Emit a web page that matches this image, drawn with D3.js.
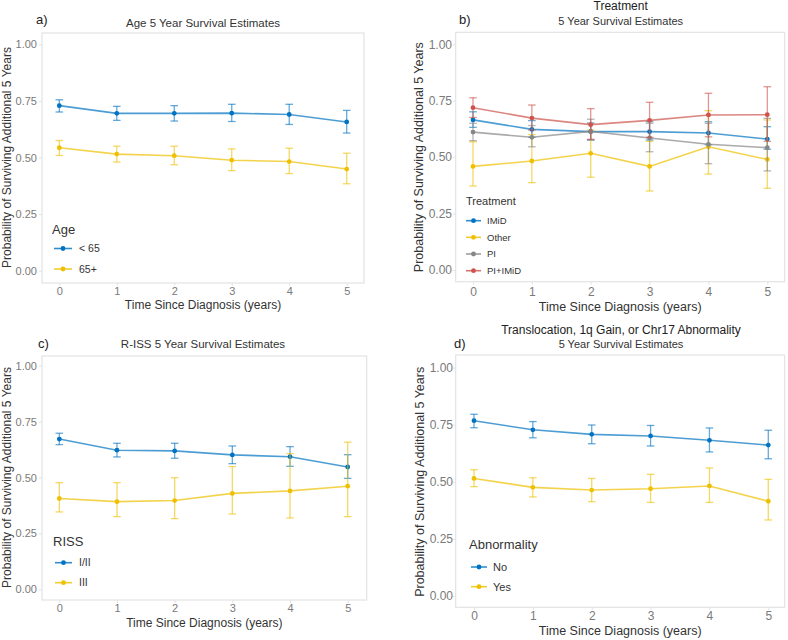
<!DOCTYPE html>
<html><head><meta charset="utf-8">
<script src="https://cdn.jsdelivr.net/npm/d3@7"></script>
<style>
body{margin:0;background:#fff;}
svg text{font-family:"Liberation Sans",Arial,sans-serif;}
</style></head>
<body>
<svg id="chart" width="788" height="640"></svg>
<script>
// ---------- DATA ----------
const years = [0, 1, 2, 3, 4, 5];
const yTicks = [0, 0.25, 0.5, 0.75, 1.0];
const yTickLabels = ["0.00", "0.25", "0.50", "0.75", "1.00"];

// Panel a: Age
const ageUnder65Est = [0.729, 0.695, 0.695, 0.696, 0.690, 0.657];
const ageUnder65Lo  = [0.701, 0.664, 0.661, 0.659, 0.646, 0.608];
const ageUnder65Hi  = [0.755, 0.726, 0.729, 0.735, 0.735, 0.708];
const age65PlusEst  = [0.543, 0.515, 0.508, 0.488, 0.482, 0.449];
const age65PlusLo   = [0.509, 0.480, 0.468, 0.442, 0.429, 0.384];
const age65PlusHi   = [0.575, 0.550, 0.550, 0.538, 0.541, 0.519];

// Panel b: Treatment
const imidEst   = [0.665, 0.623, 0.613, 0.613, 0.607, 0.580];
const imidLo    = [0.632, 0.588, 0.576, 0.576, 0.555, 0.535];
const imidHi    = [0.701, 0.662, 0.651, 0.657, 0.657, 0.635];
const otherEst  = [0.459, 0.483, 0.517, 0.459, 0.546, 0.490];
const otherLo   = [0.372, 0.387, 0.411, 0.350, 0.425, 0.362];
const otherHi   = [0.568, 0.600, 0.620, 0.570, 0.706, 0.665];
const piEst     = [0.611, 0.588, 0.614, 0.585, 0.557, 0.542];
const piLo      = [0.573, 0.546, 0.576, 0.524, 0.471, 0.439];
const piHi      = [0.650, 0.640, 0.668, 0.650, 0.650, 0.672];
const piImidEst = [0.719, 0.673, 0.644, 0.663, 0.687, 0.688];
const piImidLo  = [0.676, 0.620, 0.579, 0.588, 0.590, 0.570];
const piImidHi  = [0.763, 0.731, 0.715, 0.743, 0.783, 0.812];

// Panel c: R-ISS
const rissI_IIEst = [0.672, 0.622, 0.619, 0.601, 0.593, 0.547];
const rissI_IILo  = [0.647, 0.592, 0.586, 0.562, 0.550, 0.496];
const rissI_IIHi  = [0.698, 0.653, 0.653, 0.641, 0.638, 0.602];
const rissIIIEst  = [0.406, 0.392, 0.397, 0.429, 0.440, 0.461];
const rissIIILo   = [0.346, 0.325, 0.316, 0.337, 0.319, 0.325];
const rissIIIHi   = [0.477, 0.477, 0.499, 0.549, 0.607, 0.658];

// Panel d: Abnormality
const abnNoEst  = [0.768, 0.728, 0.708, 0.701, 0.682, 0.661];
const abnNoLo   = [0.737, 0.693, 0.667, 0.657, 0.631, 0.601];
const abnNoHi   = [0.796, 0.764, 0.749, 0.747, 0.736, 0.726];
const abnYesEst = [0.515, 0.476, 0.464, 0.470, 0.482, 0.415];
const abnYesLo  = [0.479, 0.434, 0.413, 0.410, 0.410, 0.333];
const abnYesHi  = [0.553, 0.518, 0.515, 0.533, 0.561, 0.511];

const colors = {blue: "#0073C2", yellow: "#EFC000", gray: "#868686", red: "#CD534C"};

const yTitle = "Probability of Surviving Additional 5 Years";
const xTitle = "Time Since Diagnosis (years)";

function mk(name, color, est, lo, hi) {
  return {name, color, values: years.map((t, i) => ({t, est: est[i], lo: lo[i], hi: hi[i]}))};
}

const panels = [
  {
    tag: "a)", titles: ["Age 5 Year Survival Estimates"],
    legendTitle: "Age",
    series: [mk("< 65", colors.blue, ageUnder65Est, ageUnder65Lo, ageUnder65Hi),
             mk("65+", colors.yellow, age65PlusEst, age65PlusLo, age65PlusHi)],
    L: {box: [42, 33, 364, 283], x: [59.3, 346.7], y: [270.7, 44.3],
        tag: [36, 24, 13], title: [[203, 27, 11.5, "#333"]],
        tickFs: 11, yLabRight: 37, xLabBase: 295, xTitleBase: 309, yTitleX: 11, titleFs: 12,
        leg: {tx: 52, ty: 234, tfs: 13, keyX: [54, 72], textX: 79, ys: [248.5, 269], fs: 10.5}}
  },
  {
    tag: "b)", titles: ["Treatment", "5 Year Survival Estimates"],
    legendTitle: "Treatment",
    series: [mk("IMiD", colors.blue, imidEst, imidLo, imidHi),
             mk("Other", colors.yellow, otherEst, otherLo, otherHi),
             mk("PI", colors.gray, piEst, piLo, piHi),
             mk("PI+IMiD", colors.red, piImidEst, piImidLo, piImidHi)],
    L: {box: [455.7, 32.3, 784.7, 281.7], x: [473, 767.3], y: [270, 44.3],
        tag: [459, 24, 13], title: [[620.7, 10, 12, "#222"], [620.7, 25, 11, "#333"]],
        tickFs: 12, yLabRight: 452, xLabBase: 296, xTitleBase: 310.5, yTitleX: 423, titleFs: 12.5,
        leg: {tx: 466, ty: 205, tfs: 11, keyX: [466, 481], textX: 487, ys: [220.7, 237.3, 254, 270.7], fs: 9.5}}
  },
  {
    tag: "c)", titles: ["R-ISS 5 Year Survival Estimates"],
    legendTitle: "RISS",
    series: [mk("I/II", colors.blue, rissI_IIEst, rissI_IILo, rissI_IIHi),
             mk("III", colors.yellow, rissIIIEst, rissIIILo, rissIIIHi)],
    L: {box: [42, 356, 366.7, 600], x: [59.3, 347.7], y: [589.3, 365.7],
        tag: [38, 348, 13], title: [[203, 348, 11.5, "#333"]],
        tickFs: 11, yLabRight: 37, xLabBase: 612, xTitleBase: 627, yTitleX: 11, titleFs: 12,
        leg: {tx: 53, ty: 546, tfs: 13, keyX: [55, 72], textX: 79, ys: [562.7, 582.7], fs: 10.5}}
  },
  {
    tag: "d)", titles: ["Translocation, 1q Gain, or Chr17 Abnormality", "5 Year Survival Estimates"],
    legendTitle: "Abnormality",
    series: [mk("No", colors.blue, abnNoEst, abnNoLo, abnNoHi),
             mk("Yes", colors.yellow, abnYesEst, abnYesLo, abnYesHi)],
    L: {box: [455.7, 355, 784.7, 607.3], x: [474, 768.3], y: [596, 367.7],
        tag: [454, 348, 13], title: [[621, 334, 12, "#222"], [621, 348, 11, "#333"]],
        tickFs: 12, yLabRight: 453, xLabBase: 620, xTitleBase: 635, yTitleX: 424, titleFs: 12.5,
        leg: {tx: 469, ty: 549, tfs: 13, keyX: [471, 487], textX: 493, ys: [567, 586.7], fs: 11}}
  }
];

const svg = d3.select("#chart");

panels.forEach(p => {
  const L = p.L;
  const g = svg.append("g");
  const x = d3.scaleLinear().domain([0, 5]).range(L.x);
  const y = d3.scaleLinear().domain([0, 1]).range(L.y);
  const [bx0, by0, bx1, by1] = L.box;

  // panel border
  g.append("rect").attr("x", bx0).attr("y", by0).attr("width", bx1 - bx0).attr("height", by1 - by0)
    .attr("fill", "#fff").attr("stroke", "#e3e3e3").attr("stroke-width", 1.2);

  // axes
  const yAxis = d3.axisLeft(y).tickValues(yTicks).tickFormat((d, i) => yTickLabels[i]).tickSize(3).tickPadding(2);
  const ya = g.append("g").attr("transform", `translate(${bx0},0)`).call(yAxis);
  ya.select(".domain").remove();
  ya.selectAll(".tick line").attr("stroke", "#e3e3e3");
  ya.selectAll(".tick text").attr("font-size", L.tickFs).attr("fill", "#7a7a7a")
    .attr("x", L.yLabRight - bx0).attr("text-anchor", "end");

  const xAxis = d3.axisBottom(x).tickValues(years).tickFormat(d3.format("d")).tickSize(3).tickPadding(2);
  const xa = g.append("g").attr("transform", `translate(0,${by1})`).call(xAxis);
  xa.select(".domain").remove();
  xa.selectAll(".tick line").attr("stroke", "#e3e3e3");
  xa.selectAll(".tick text").attr("font-size", L.tickFs).attr("fill", "#7a7a7a")
    .attr("dy", null).attr("y", L.xLabBase - by1);

  // axis titles
  g.append("text").attr("x", (bx0 + bx1) / 2).attr("y", L.xTitleBase).attr("text-anchor", "middle")
    .attr("font-size", L.titleFs).attr("fill", "#333").text(xTitle);
  g.append("text").attr("transform", `translate(${L.yTitleX},${(y(0) + y(1)) / 2}) rotate(-90)`)
    .attr("text-anchor", "middle").attr("font-size", L.titleFs).attr("fill", "#333").text(yTitle);

  // titles
  p.titles.forEach((t, i) => {
    const [tx, ty, fs, col] = L.title[i];
    g.append("text").attr("x", tx).attr("y", ty).attr("text-anchor", "middle")
      .attr("font-size", fs).attr("fill", col).text(t);
  });
  g.append("text").attr("x", L.tag[0]).attr("y", L.tag[1]).attr("font-size", L.tag[2]).attr("fill", "#222").text(p.tag);

  // series
  const line = d3.line().x(d => x(d.t)).y(d => y(d.est));
  p.series.forEach(s => {
    const sg = g.append("g");
    sg.selectAll("line.eb").data(s.values).join("line").attr("class", "eb")
      .attr("x1", d => x(d.t)).attr("x2", d => x(d.t)).attr("y1", d => y(d.lo)).attr("y2", d => y(d.hi))
      .attr("stroke", s.color).attr("stroke-width", 1.3).attr("opacity", 0.6);
    ["lo", "hi"].forEach(k => {
      sg.selectAll("line.cap" + k).data(s.values).join("line").attr("class", "cap" + k)
        .attr("x1", d => x(d.t) - 3.8).attr("x2", d => x(d.t) + 3.8)
        .attr("y1", d => y(d[k])).attr("y2", d => y(d[k]))
        .attr("stroke", s.color).attr("stroke-width", 1.3).attr("opacity", 0.6);
    });
    sg.append("path").datum(s.values).attr("d", line).attr("fill", "none")
      .attr("stroke", s.color).attr("stroke-width", 1.6).attr("opacity", 0.7);
    sg.selectAll("circle").data(s.values).join("circle")
      .attr("cx", d => x(d.t)).attr("cy", d => y(d.est)).attr("r", 2.4).attr("fill", s.color);
  });

  // legend
  const lg = L.leg;
  g.append("text").attr("x", lg.tx).attr("y", lg.ty).attr("font-size", lg.tfs).attr("fill", "#333").text(p.legendTitle);
  p.series.forEach((s, i) => {
    const yy = lg.ys[i];
    g.append("line").attr("x1", lg.keyX[0]).attr("x2", lg.keyX[1]).attr("y1", yy).attr("y2", yy)
      .attr("stroke", s.color).attr("stroke-width", 1.6).attr("opacity", 0.8);
    g.append("circle").attr("cx", (lg.keyX[0] + lg.keyX[1]) / 2).attr("cy", yy).attr("r", 2.4).attr("fill", s.color);
    g.append("text").attr("x", lg.textX).attr("y", yy).attr("dy", "0.35em").attr("font-size", lg.fs)
      .attr("fill", "#333").text(s.name);
  });
});
</script>
</body></html>
